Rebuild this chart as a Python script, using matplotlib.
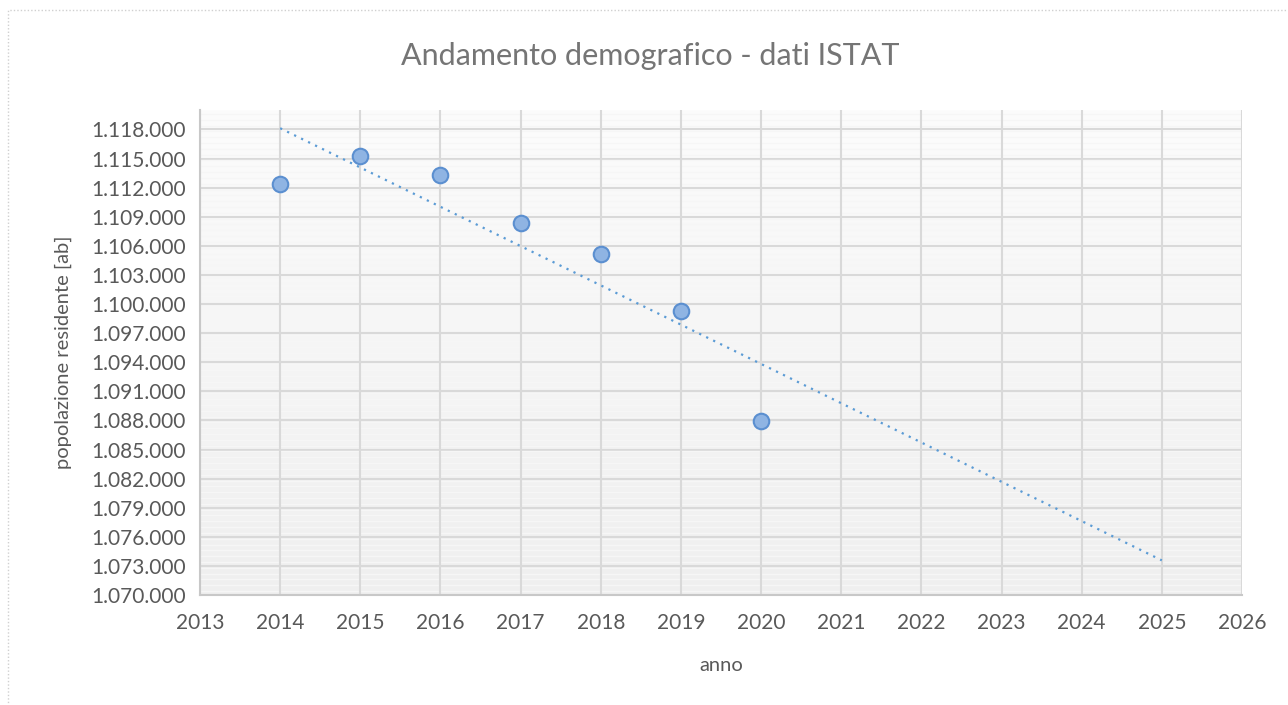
import numpy as np
import matplotlib
matplotlib.use("Agg")
import matplotlib.pyplot as plt
from matplotlib.ticker import FuncFormatter, MultipleLocator, FixedLocator
import matplotlib.patches as mp

# dati ISTAT
anni = [2014, 2015, 2016, 2017, 2018, 2019, 2020]
popolazione = [1112400, 1115300, 1113250, 1108400, 1105200, 1099300, 1087950]

titolo = "Andamento demografico - dati ISTAT"
xlab = "anno"
ylab = "popolazione residente [ab]"

plt.rcParams['font.family'] = ['Lato', 'DejaVu Sans']
grey_txt = "#595959"

fig = plt.figure(figsize=(12.88, 7.05), dpi=100)
ax = fig.add_axes([200/1288, 1-595/705, 1042/1288, 485/705])

# sfondo sfumato
grad = np.linspace(0, 1, 256).reshape(-1, 1)
ax.imshow(grad, cmap=matplotlib.colors.LinearSegmentedColormap.from_list("g", ["#fcfcfc", "#efefef"]),
          extent=[0, 1, 0, 1], transform=ax.transAxes, aspect="auto", zorder=0)

# linea di tendenza lineare (previsione 5 anni avanti)
k, q = np.polyfit(anni, popolazione, 1)
xt = np.array([anni[0], anni[-1] + 5])
ax.plot(xt, k*xt + q, linestyle=(0, (1, 2.5)), color="#5b9bd5", lw=1.6, zorder=3)

ax.scatter(anni, popolazione, s=125, facecolor="#8fb4e3", edgecolor="#5b8fd0", linewidth=1.5, zorder=4)

ax.set_xlim(2013, 2026)
ax.set_ylim(1070000, 1120000)
ax.xaxis.set_major_locator(MultipleLocator(1))
ax.yaxis.set_major_locator(FixedLocator(np.arange(1070000, 1118001, 3000)))
ax.yaxis.set_minor_locator(MultipleLocator(600))
ax.yaxis.set_major_formatter(FuncFormatter(lambda v, p: f"{int(v):,}".replace(",", ".")))

ax.set_axisbelow(True)
ax.grid(which="major", color="#d9d9d9", lw=1.5)
ax.grid(which="minor", axis="y", color="#f6f6f6", lw=1.0)
ax.yaxis.set_zorder(0.5)
ax.xaxis.set_zorder(0.7)
ax.tick_params(which="both", length=0, labelsize=15, labelcolor=grey_txt)
ax.tick_params(axis="x", pad=13)
ax.tick_params(axis="y", pad=10)

for s in ["top", "right"]:
    ax.spines[s].set_visible(False)
for s in ["left", "bottom"]:
    ax.spines[s].set_color("#c8c8c8")
    ax.spines[s].set_linewidth(1.5)
    ax.spines[s].set_zorder(2)

ax.set_xlabel(xlab, fontsize=14.5, color=grey_txt)
ax.set_ylabel(ylab, fontsize=14.5, color=grey_txt)
ax.xaxis.set_label_coords(0.5, (595-657)/485)
ax.yaxis.set_label_coords((72-200)/1042, 0.5)
fig.text(650/1288, 1-56/705, titolo, ha="center", va="center", fontsize=22, color="#757575")

# bordo tratteggiato dell'area grafico
fig.patches.append(mp.Rectangle((8/1288, -0.1), 1.2, 1-10/705+0.1, transform=fig.transFigure,
                                fill=False, edgecolor="#d0d0d0", linestyle=(0, (1, 1.5)), lw=1.0))

fig.savefig("out.png", dpi=100)
